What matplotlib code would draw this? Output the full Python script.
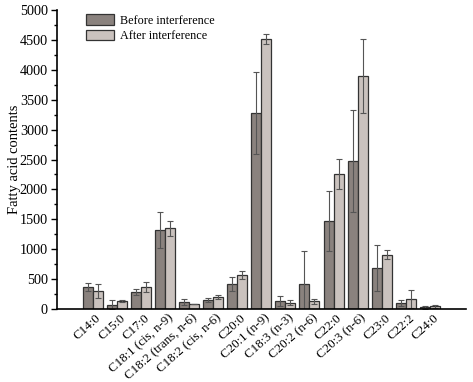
import numpy as np
import matplotlib
matplotlib.use("Agg")
import matplotlib.pyplot as plt

plt.rcParams['font.family'] = ['Liberation Serif', 'DejaVu Serif']

acids = ['C14:0', 'C15:0', 'C17:0', 'C18:1 (cis, n-9)', 'C18:2 (trans, n-6)',
         'C18:2 (cis, n-6)', 'C20:0', 'C20:1 (n-9)', 'C18:3 (n-3)', 'C20:2 (n-6)',
         'C22:0', 'C20:3 (n-6)', 'C23:0', 'C22:2', 'C24:0']
before = [363, 72, 290, 1321, 117, 150, 418, 3278, 134, 413, 1472, 2470, 686, 95, 28]
before_err = [70, 80, 50, 300, 45, 30, 117, 685, 80, 560, 500, 850, 380, 50, 30]
after = [296, 134, 368, 1349, 84, 200, 568, 4509, 106, 128, 2252, 3891, 908, 167, 45]
after_err = [120, 10, 85, 120, 5, 35, 60, 85, 40, 40, 250, 620, 75, 145, 30]

fig = plt.figure(figsize=(4.73, 3.82), dpi=100)
ax = fig.add_axes([57 / 473, 1 - 309 / 382, (466 - 57) / 473, 299 / 382])

x = np.arange(len(acids))
w = 0.415
err_kw = dict(ecolor='#555555', elinewidth=0.8, capsize=2.5, capthick=0.8)
ax.bar(x - w / 2, before, w, yerr=before_err, color='#8a827e', edgecolor='#333333',
       linewidth=0.9, error_kw=err_kw, label='Before interference')
ax.bar(x + w / 2, after, w, yerr=after_err, color='#cac2be', edgecolor='#333333',
       linewidth=0.9, error_kw=err_kw, label='After interference')

ax.set_xlim(-1.48, 15.5)
ax.set_ylim(0, 5000)
ax.set_yticks(np.arange(0, 5001, 500))
ax.set_yticks(np.arange(0, 5001, 250), minor=True)
ax.set_xticks(x + 0.12)
ax.set_xticklabels(acids, rotation=42, ha='right', rotation_mode='anchor', fontsize=9.4)
ax.tick_params(axis='x', length=0, pad=2)
ax.tick_params(axis='y', labelsize=10.3, length=4, width=1, pad=2.5)
ax.tick_params(axis='y', which='minor', length=2.5, width=1)
for s in ['top', 'right']:
    ax.spines[s].set_visible(False)
for s in ['left', 'bottom']:
    ax.spines[s].set_linewidth(1.2)

ax.set_ylabel('Fatty acid contents', fontsize=10.5)
ax.yaxis.set_label_coords(-0.088, 0.5)
ax.legend(loc='upper left', bbox_to_anchor=(0.071, 0.985), frameon=False, fontsize=8.7,
          handlelength=2.3, handleheight=0.9, handletextpad=0.5, labelspacing=0.25,
          borderaxespad=0, borderpad=0)

fig.savefig('out.png', dpi=100)
